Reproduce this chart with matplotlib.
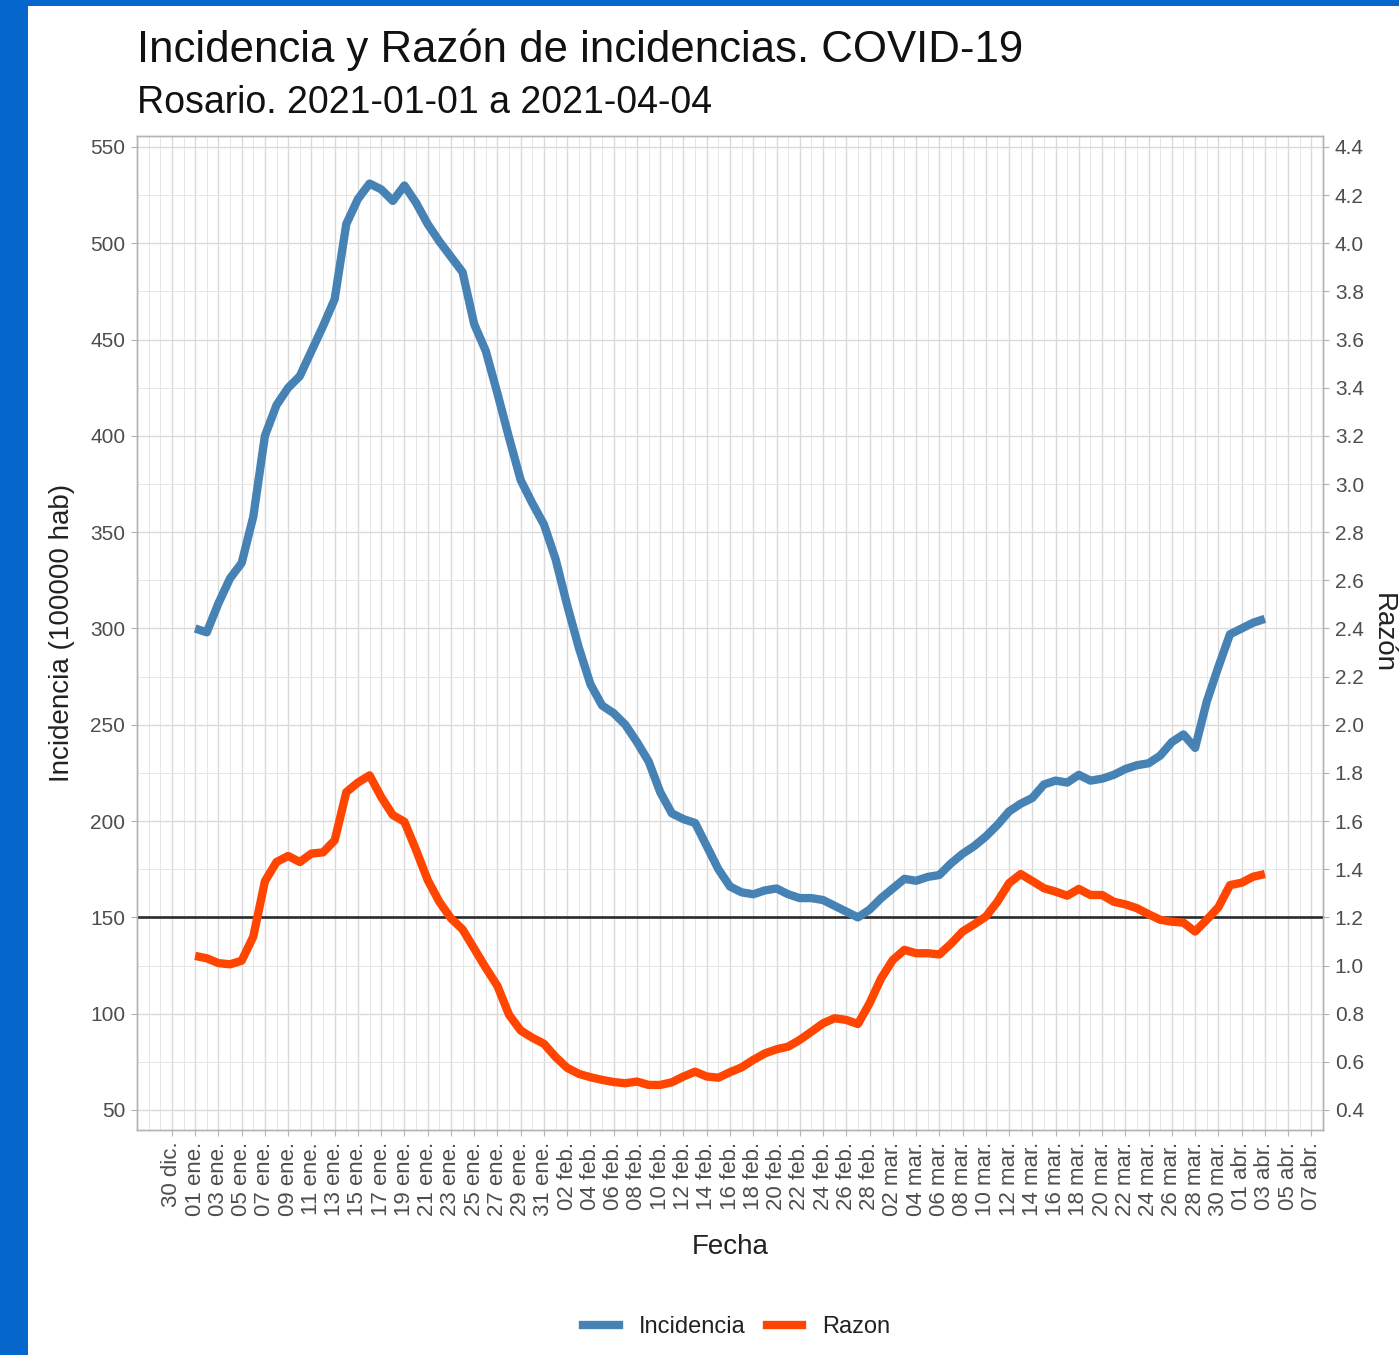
import matplotlib
matplotlib.use("Agg")
import matplotlib.pyplot as plt
from matplotlib.patches import Rectangle
from matplotlib.lines import Line2D
from matplotlib.ticker import MultipleLocator, FixedLocator, FormatStrFormatter
import matplotlib.dates as mdates
import pandas as pd

plt.rcParams['font.family'] = ['Liberation Sans', 'DejaVu Sans']

# ---------------- data ----------------
fecha_inicio = "2021-01-01"

incidencia = [
    300, 298, 313, 326, 334, 358, 400, 416, 425, 431,
    444, 457, 471, 510, 523, 531, 528, 522, 530, 521,
    510, 501, 493, 485, 458, 444, 422, 399, 377, 365,
    354, 336, 312, 290, 271, 260, 256, 250, 241, 231,
    215, 204, 201, 199, 187, 175, 166, 163, 162, 164,
    165, 162, 160, 160, 159, 156, 153, 150, 154, 160,
    165, 170, 169, 171, 172, 178, 183, 187, 192, 198,
    205, 209, 212, 219, 221, 220, 224, 221, 222, 224,
    227, 229, 230, 234, 241, 245, 238, 262, 280, 297,
    300, 303, 305,
]

razon = [
    1.04, 1.03, 1.01, 1.005, 1.02, 1.12, 1.35, 1.43, 1.455, 1.43,
    1.465, 1.47, 1.52, 1.72, 1.76, 1.79, 1.70, 1.625, 1.597, 1.48,
    1.355, 1.265, 1.196, 1.15, 1.07, 0.99, 0.915, 0.795, 0.73, 0.70,
    0.675, 0.62, 0.575, 0.55, 0.536, 0.525, 0.516, 0.511, 0.518, 0.504,
    0.504, 0.515, 0.539, 0.559, 0.539, 0.534, 0.557, 0.577, 0.608, 0.635,
    0.652, 0.663, 0.691, 0.725, 0.76, 0.781, 0.774, 0.757, 0.843, 0.947,
    1.023, 1.065, 1.051, 1.051, 1.046, 1.09, 1.141, 1.171, 1.203, 1.265,
    1.342, 1.38, 1.351, 1.321, 1.307, 1.29, 1.318, 1.293, 1.293, 1.265,
    1.254, 1.238, 1.213, 1.19, 1.182, 1.178, 1.141, 1.19, 1.242, 1.334,
    1.344, 1.369, 1.38,
]

umbral_incidencia = 150
escala_razon = 125  # 550 incidencia <-> 4.4 razon

meses = {12: 'dic.', 1: 'ene.', 2: 'feb.', 3: 'mar.', 4: 'abr.'}
tick_inicio, tick_fin = "2020-12-30", "2021-04-07"
y_ticks_izq = [50, 100, 150, 200, 250, 300, 350, 400, 450, 500, 550]

titulo = "Incidencia y Razón de incidencias. COVID-19"
subtitulo = "Rosario. 2021-01-01 a 2021-04-04"
etiqueta_y = "Incidencia (100000 hab)"
etiqueta_y2 = "Razón"
etiqueta_x = "Fecha"
series = ["Incidencia", "Razon"]

# ---------------- derived ----------------
fechas = pd.date_range(fecha_inicio, periods=len(incidencia), freq='D')
tick_fechas = pd.date_range(tick_inicio, tick_fin, freq='2D')
tick_labels = [f"{d.day:02d} {meses[d.month]}" for d in tick_fechas]
y_ticks_der = [v / escala_razon for v in range(50, 551, 25)]

AZUL = '#4682B4'
ROJO = '#FF4500'
GRIS_TXT = '#4D4D4D'
LW = 6.0

W, H = 1399, 1355
fig = plt.figure(figsize=(W / 100, H / 100), dpi=100)
fig.patch.set_facecolor('white')
fig.patches.append(Rectangle((0, 0), 28 / W, 1, transform=fig.transFigure,
                             facecolor='#0566CC', edgecolor='none', zorder=0))
fig.patches.append(Rectangle((0, 1 - 6 / H), 1, 6 / H, transform=fig.transFigure,
                             facecolor='#0566CC', edgecolor='none', zorder=0))

ax = fig.add_axes([137 / W, 1 - 1130 / H, (1323 - 137) / W, (1130 - 136) / H])

x0 = pd.Timestamp(tick_inicio) - pd.Timedelta(days=3)
x1 = pd.Timestamp(tick_fin) + pd.Timedelta(days=1)
ax.set_xlim(x0, x1)
ylo, yhi = 39.6, 555.7
ax.set_ylim(ylo, yhi)

ax.xaxis.set_major_locator(FixedLocator(mdates.date2num(tick_fechas)))
ax.set_xticklabels(tick_labels, rotation=90, ha='center', va='top')
ax.xaxis.set_minor_locator(mdates.DayLocator())
ax.set_yticks(y_ticks_izq)
ax.yaxis.set_minor_locator(MultipleLocator(25))

ax.grid(which='major', color='#DADADA', lw=1.0, zorder=0)
ax.grid(which='minor', color='#E6E6E6', lw=0.7, zorder=0)
ax.set_axisbelow(True)

ax.tick_params(axis='y', which='major', length=4.5, width=0.8, color='#B3B3B3',
               labelcolor=GRIS_TXT, labelsize=15, pad=4)
ax.tick_params(axis='x', which='major', length=4.5, width=0.8, color='#B3B3B3',
               labelcolor=GRIS_TXT, labelsize=16, pad=4)
ax.tick_params(which='minor', length=0)
for s in ax.spines.values():
    s.set_color('#B3B3B3')
    s.set_linewidth(1.0)

ax.axhline(umbral_incidencia, color='#2b2b2b', lw=1.9, zorder=3)
ax.plot(fechas, incidencia, color=AZUL, lw=LW, solid_capstyle='butt',
        solid_joinstyle='round', zorder=4)

ax2 = ax.twinx()
ax2.set_ylim(ylo / escala_razon, yhi / escala_razon)
ax2.set_yticks(y_ticks_der)
ax2.yaxis.set_major_formatter(FormatStrFormatter('%.1f'))
ax2.tick_params(which='major', length=4.5, width=0.8, color='#B3B3B3',
                labelcolor=GRIS_TXT, labelsize=15, pad=4)
for s in ax2.spines.values():
    s.set_color('#B3B3B3')
    s.set_linewidth(1.0)
ax2.plot(fechas, razon, color=ROJO, lw=LW, solid_capstyle='butt',
         solid_joinstyle='round', zorder=4)

# texts
fig.text(137 / W, 1 - 62 / H, titulo, fontsize=31.5, ha='left', va='baseline', color='#111111')
fig.text(137 / W, 1 - 113 / H, subtitulo, fontsize=27, ha='left', va='baseline', color='#111111')
fig.text(62 / W, 1 - 633 / H, etiqueta_y, fontsize=20, rotation=90, ha='center', va='center', color='#222222')
fig.text(1383 / W, 1 - 633 / H, etiqueta_y2, fontsize=20, rotation=270, ha='center', va='center', color='#222222')
fig.text(730 / W, 1 - 1247 / H, etiqueta_x, fontsize=20, ha='center', va='center', color='#222222')

handles = [Line2D([], [], color=AZUL, lw=LW), Line2D([], [], color=ROJO, lw=LW)]
leg = fig.legend(handles, series, loc='center', bbox_to_anchor=(737 / W, 1 - 1327 / H),
                 ncol=2, frameon=False, fontsize=17, handlelength=1.5,
                 handletextpad=0.85, columnspacing=0.9)
for t in leg.get_texts():
    t.set_color('#222222')

fig.savefig('out.png', dpi=100, facecolor='white')
